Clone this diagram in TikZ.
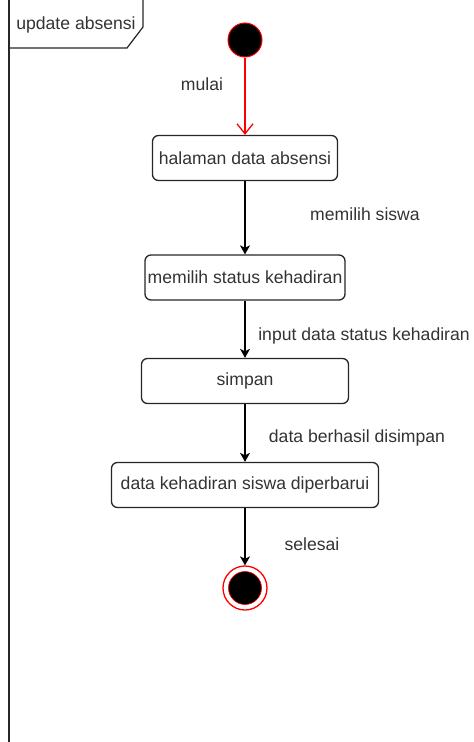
\documentclass[tikz,border=0pt]{standalone}
\usepackage{fontspec}
\setmainfont{Liberation Sans}
\usetikzlibrary{arrows.meta}
\definecolor{txtgray}{HTML}{333333}
\definecolor{linegray}{HTML}{262626}

\begin{document}
\begin{tikzpicture}[x=1pt,y=-1pt,
    every node/.style={font=\fontsize{17.6}{20}\selectfont, text=txtgray},
    act/.style={draw=linegray, line width=1.3pt, rounded corners=6pt,
      minimum height=45pt, inner sep=0pt, fill=white},
    flow/.style={draw=black, line width=1.3pt,
      -{Stealth[length=9pt,width=10pt,inset=2.5pt]}},
    lbl/.style={inner sep=0pt}]
  \useasboundingbox (0,0) rectangle (474,742);
  % frame
  \draw[linegray, line width=1.2pt] (9,-10) -- (9,742);
  \draw[linegray, line width=1.2pt] (9,48) -- (127,48) -- (143,27) -- (143,-10);
  \node[lbl] (frame) at (76,25) {update absensi};
  % start and end
  \node[circle, fill=black, draw=red, line width=1pt, minimum size=34pt,
    inner sep=0pt] (start) at (245,40) {};
  \node[circle, draw=red, line width=1.3pt, fill=white, minimum size=44pt,
    inner sep=0pt] (end) at (245,588) {};
  \node[circle, fill=black, draw=red, line width=0.6pt, minimum size=33pt,
    inner sep=0pt] (endin) at (245,588) {};
  % activities
  \node[act, minimum width=185pt] (halaman) at (245,158) {halaman data absensi};
  \node[act, minimum width=200pt] (status) at (245,277.5) {memilih status kehadiran};
  \node[act, minimum width=207pt] (simpan) at (245,381) {simpan};
  \node[act, minimum width=267pt] (update) at (245,485) {data kehadiran siswa diperbarui};
  % flows
  \draw[red, line width=1.3pt, -{Straight Barb[length=10pt,width=16pt]}] (start) -- (halaman);
  \draw[flow] (halaman) -- (status);
  \draw[flow] (status) -- (simpan);
  \draw[flow] (simpan) -- (update);
  \draw[flow] (update) -- (end);
  % labels
  \node[lbl] (lmulai) at (202,84) {mulai};
  \node[lbl] (lsiswa) at (365,214) {memilih siswa};
  \node[lbl] (linput) at (364,336) {input data status kehadiran};
  \node[lbl] (lberhasil) at (357,438) {data berhasil disimpan};
  \node[lbl] (lselesai) at (312,544) {selesai};
\end{tikzpicture}
\end{document}
